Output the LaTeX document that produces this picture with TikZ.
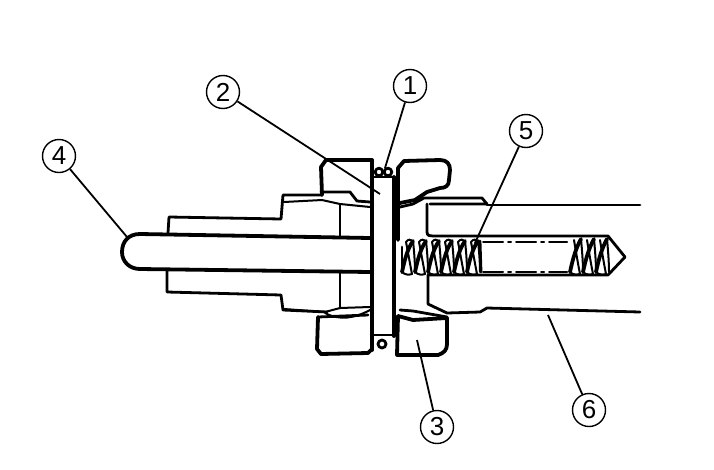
\documentclass[tikz,border=0pt]{standalone}
\usepackage{fontspec}
\setmainfont{Liberation Sans}
\tikzset{
  part/.style={line width=2.8pt,line join=round,line cap=round},
  thick part/.style={line width=3.8pt,line join=round,line cap=round},
  thin part/.style={line width=2pt,line join=round,line cap=round},
  leader/.style={line width=1.8pt},
  callout/.style={circle,draw,line width=1.4pt,minimum size=33pt,inner sep=0pt,font=\fontsize{26}{26}\selectfont}
}
\begin{document}
\begin{tikzpicture}[x=1pt,y=-1pt]
\useasboundingbox (0,0) rectangle (714,469);
% toggle rod
\draw[thick part] (370,238) -- (140,234) .. controls (128,234) and (122,242) .. (122,252) .. controls (122,262) and (130,269) .. (140,269) -- (370,272);
% housing
\draw[part] (168,233) -- (169,217) -- (281,219) -- (283,195) -- (322,195);
\draw[part] (167,270) -- (167,292) -- (281,295) -- (283,310) -- (327,312);
\draw[thin part] (284,202) -- (322,200) -- (340,204) -- (370,207);
\draw[part] (340,205) -- (340,237);
\draw[part] (340,273) -- (340,308);
% left nut, upper
\draw[thick part] (322,195) -- (321,167) -- (326,160) -- (372,160);
\draw[part] (321,192) -- (350,192) -- (357,201) -- (370,202);
% left nut, lower
\draw[thick part] (318,317) -- (317,349) -- (321,354) -- (368,353) -- (371,350);
\draw[part] (318,317) -- (368,315);
\draw[thin part] (284,309) -- (325,312) -- (340,308) -- (370,307);
\draw[thin part] (325,313) .. controls (340,321) and (355,318) .. (370,310);
% plate
\draw[thick part] (372,160) -- (372,350);
\draw[thick part] (394,177) -- (394,336);
\draw[part] (372,177) -- (394,177);
\draw[part] (372,335) -- (394,335);
\draw[part] (379,172) circle[radius=3.8];
\draw[part] (388,172) circle[radius=3.8];
\draw[part] (382,344) circle[radius=4];
% right nut, upper
\draw[thick part] (398,240) -- (398,168) -- (404,161) -- (440,160) .. controls (447,160) and (450,164) .. (450,170) -- (449,180) .. controls (449,186) and (445,188) .. (440,188) -- (427,192) -- (415,200) -- (400,203);
\draw[part] (400,207) -- (413,204) -- (424,198) -- (482,198) -- (487,204) -- (430,204);
\draw[part] (427,204) -- (427,232) .. controls (427,236) and (430,236) .. (433,236) -- (608,236) -- (625,257) -- (608,275) -- (428,275);
% right nut, lower
\draw[thick part] (398,316) -- (397,355) -- (438,355) .. controls (444,353) and (447,350) .. (447,344) -- (447,318) -- (413,320) -- (398,316);
\draw[part] (400,310) -- (413,311) -- (447,317);
\draw[part] (428,275) -- (428,304) -- (447,313) -- (480,312) -- (487,308) -- (640,312);
\draw[part] (487,205) -- (640,205);
% centre lines of the bore
\draw[thin part,dash pattern=on 20pt off 5pt on 3pt off 5pt] (483,242) -- (567,242);
\draw[thin part,dash pattern=on 20pt off 5pt on 3pt off 5pt] (483,272) -- (567,272);
% springs
\foreach \x in {402,415,428,441,454,467}{
  \draw[thick part] (\x,272) .. controls (\x+3,258) and (\x+6,248) .. (\x+11,241);
  \draw[thin part] (\x+4,242) .. controls (\x+6,252) and (\x+8,264) .. (\x+10,274);
  \draw[thin part] (\x+11,241) .. controls (\x+12,250) and (\x+13,262) .. (\x+13,272);
  \draw[thin part] (\x,272) .. controls (\x+3,275) and (\x+7,275) .. (\x+10,274);
  \draw[thin part] (\x+4,242) .. controls (\x+6,239) and (\x+9,239) .. (\x+11,241);
}
\draw[part] (480,241) -- (481,272);
\draw[part] (402,247) -- (402,272);
\foreach \x in {570,583,596}{
  \draw[thick part] (\x,272) .. controls (\x+3,258) and (\x+6,248) .. (\x+11,239);
  \draw[thin part] (\x+4,240) .. controls (\x+6,252) and (\x+8,264) .. (\x+10,274);
  \draw[thin part] (\x+11,239) .. controls (\x+12,250) and (\x+13,262) .. (\x+13,272);
  \draw[thin part] (\x,272) .. controls (\x+3,275) and (\x+7,275) .. (\x+10,274);
}
% callouts
\node[callout] (n1) at (410,86) {1};
\node[callout] (n2) at (223,92) {2};
\node[callout] (n3) at (437,427) {3};
\node[callout] (n4) at (59,156) {4};
\node[callout] (n5) at (526,131) {5};
\node[callout] (n6) at (589,410) {6};
\coordinate (e1) at (385,168);
\coordinate (e2) at (380,194);
\coordinate (e3) at (417,340);
\coordinate (e4) at (127,237);
\coordinate (e5) at (475,243);
\coordinate (e6) at (548,315);
\draw[leader] (n1) -- (e1);
\draw[leader] (n2) -- (e2);
\draw[leader] (n3) -- (e3);
\draw[leader] (n4) -- (e4);
\draw[leader] (n5) -- (e5);
\draw[leader] (n6) -- (e6);
\end{tikzpicture}
\end{document}
